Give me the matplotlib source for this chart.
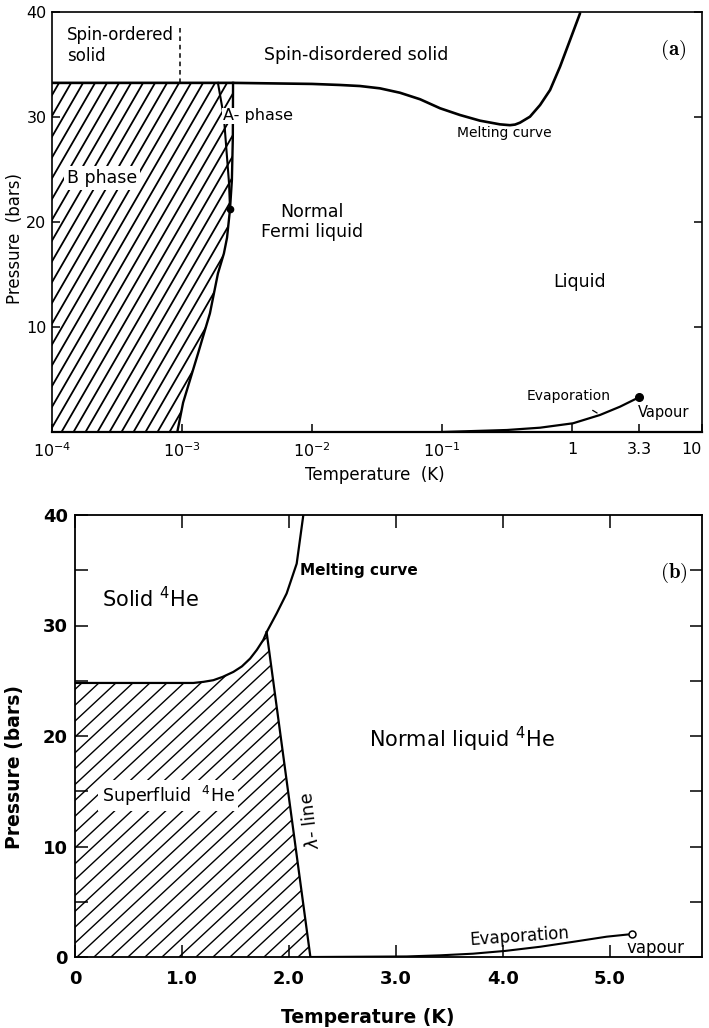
import numpy as np
import matplotlib
matplotlib.use("Agg")
import matplotlib.pyplot as plt
from matplotlib.patches import Polygon
from matplotlib.collections import LineCollection

plt.rcParams['font.family'] = ['DejaVu Sans']

# ---------------- Panel (a): 3He ----------------
a_melt_T = [1e-4, 2.47e-3, 0.01, 0.0164, 0.0234, 0.0333, 0.0475, 0.0678, 0.0967, 0.1375,
            0.196, 0.24, 0.279, 0.333, 0.365, 0.398, 0.475, 0.568, 0.678, 0.809, 0.966, 1.153]
a_melt_P = [33.25, 33.25, 33.15, 33.05, 32.95, 32.73, 32.31, 31.69, 30.83, 30.19,
            29.65, 29.45, 29.30, 29.22, 29.28, 29.46, 30.03, 31.14, 32.57, 34.79, 37.33, 39.87]
a_tc_T = [0.92e-3, 1.02e-3, 1.33e-3, 1.64e-3, 1.89e-3, 2.10e-3, 2.22e-3, 2.34e-3, 2.42e-3,
          2.46e-3, 2.47e-3]
a_tc_P = [0.0, 2.8, 7.5, 11.3, 15.1, 17.0, 18.5, 21.2, 24.0, 28.0, 33.25]
a_ab_T = [1.89e-3, 2.10e-3, 2.30e-3, 2.34e-3]
a_ab_P = [33.25, 30.0, 23.7, 21.2]
a_pcp_T, a_pcp_P = 2.34e-3, 21.2
a_order_T = [0.97e-3, 0.97e-3]
a_order_P = [33.25, 38.6]
a_evap_T = [0.1, 0.316, 0.568, 1.018, 1.64, 2.34, 3.27]
a_evap_P = [0.0, 0.19, 0.41, 0.83, 1.62, 2.41, 3.30]
a_xticks = [1e-4, 1e-3, 1e-2, 1e-1, 1, 3.3, 10]
a_xticklabels = ['$10^{-4}$', '$10^{-3}$', '$10^{-2}$', '$10^{-1}$', '1', '3.3', '10']
a_yticks = [10, 20, 30, 40]
a_yticklabels = ['10', '20', '30', '40']

# ---------------- Panel (b): 4He ----------------
b_melt_T = [0.0, 1.106, 1.2, 1.293, 1.38, 1.480, 1.56, 1.636, 1.70, 1.760, 1.791,
            1.885, 1.978, 2.072, 2.134]
b_melt_P = [24.8, 24.8, 24.9, 25.05, 25.35, 25.8, 26.3, 27.0, 27.8, 28.7, 29.4,
            31.1, 32.9, 35.6, 40.0]
b_lambda_T = [1.791, 2.2]
b_lambda_P = [29.4, 0.0]
b_evap_T = [2.2, 3.1, 3.41, 3.72, 4.02, 4.35, 4.66, 4.97, 5.21]
b_evap_P = [0.0, 0.05, 0.15, 0.30, 0.55, 0.93, 1.38, 1.84, 2.08]
b_xticks = [0, 1, 2, 3, 4, 5]
b_xticklabels = ['0', '1.0', '2.0', '3.0', '4.0', '5.0']
b_yticks = [0, 10, 20, 30, 40]
b_yticklabels = ['0', '10', '20', '30', '40']
b_yminor = [5, 15, 25, 35]

FW, FH, DPI = 7.09, 10.28, 100
fig = plt.figure(figsize=(FW, FH), dpi=DPI)

axa = fig.add_axes([52/709, 1-432/1028, 650/709, 420/1028])
axb = fig.add_axes([75/709, 1-957/1028, 627/709, 442/1028])


def add_hatch(ax, patch, angle_deg, step_px, lw):
    pos = ax.get_position()
    W = pos.width * FW * DPI
    H = pos.height * FH * DPI
    dx = H / np.tan(np.radians(angle_deg))
    cs = np.arange(-dx, W + step_px, step_px)
    segs = [[(c / W, 0.0), ((c + dx) / W, 1.0)] for c in cs]
    lc = LineCollection(segs, transform=ax.transAxes, colors='black', linewidths=lw)
    ax.add_collection(lc, autolim=False)
    lc.set_clip_path(patch)


# ======== (a) ========
ax = axa
ax.set_xscale('log')
ax.set_xlim(1e-4, 10)
ax.set_ylim(0, 40)

poly_T = [1e-4, 1e-4] + a_tc_T[::-1]
poly_P = [0.0, 33.25] + a_tc_P[::-1]
pa = Polygon(np.column_stack([poly_T, poly_P]), closed=True, facecolor='none', edgecolor='none')
ax.add_patch(pa)
add_hatch(ax, pa, 60, 12.0, 1.3)

ax.plot(a_melt_T, a_melt_P, color='black', lw=1.9, solid_capstyle='round', zorder=3)
ax.plot(a_tc_T, a_tc_P, color='black', lw=1.7, zorder=3)
ax.plot(a_ab_T, a_ab_P, color='black', lw=1.5, zorder=3)
ax.plot([a_pcp_T], [a_pcp_P], 'o', color='black', ms=4.5, zorder=4)
ax.plot(a_order_T, a_order_P, color='black', lw=1.1, ls=(0, (3, 2.5)), zorder=3)
ax.plot(a_evap_T, a_evap_P, color='black', lw=1.6, zorder=3)
ax.plot([a_evap_T[-1]], [a_evap_P[-1]], 'o', color='black', ms=5.5, zorder=4)

ax.set_xticks(a_xticks)
ax.set_xticklabels(a_xticklabels)
ax.xaxis.set_minor_locator(matplotlib.ticker.NullLocator())
ax.set_yticks(a_yticks)
ax.set_yticklabels(a_yticklabels)
ax.tick_params(axis='both', direction='in', length=6, width=1.1, labelsize=11.5,
               right=True, top=False)
ax.tick_params(axis='x', pad=7)
ax.tick_params(axis='y', pad=4)
ax.get_xticklabels()[-1].set_ha('right')
for s in ax.spines.values():
    s.set_linewidth(1.2)
ax.spines['bottom'].set_linewidth(1.6)

ax.text(-0.057, 0.46, 'Pressure  (bars)', transform=ax.transAxes, rotation=90,
        ha='center', va='center', fontsize=12)
ax.text(0.497, -0.102, 'Temperature  (K)', transform=ax.transAxes,
        ha='center', va='center', fontsize=12)

ax.text(1.3e-4, 36.8, 'Spin-ordered\nsolid', fontsize=12, ha='left', va='center', linespacing=1.25)
ax.text(2.2e-2, 35.9, 'Spin-disordered solid', fontsize=12.5, ha='center', va='center')
ax.text(0.955, 0.91, r'$\mathbf{(a)}$', transform=ax.transAxes, fontsize=15,
        ha='center', va='center', math_fontfamily='cm')
ax.text(2.05e-3, 30.1, 'A- phase', fontsize=11.5, ha='left', va='center',
        bbox=dict(boxstyle='square,pad=0.05', fc='white', ec='none'), zorder=5)
ax.text(1.3e-4, 24.2, 'B phase', fontsize=12.5, ha='left', va='center',
        bbox=dict(boxstyle='square,pad=0.15', fc='white', ec='none'), zorder=5)
ax.text(1.0e-2, 20.0, 'Normal\nFermi liquid', fontsize=12.5, ha='center', va='center',
        linespacing=1.2)
ax.text(0.3, 28.45, 'Melting curve', fontsize=10, ha='center', va='center')
ax.text(1.15, 14.3, 'Liquid', fontsize=12.5, ha='center', va='center')
ax.annotate('Evaporation', xy=(1.56, 1.81), xytext=(0.95, 3.4), fontsize=10,
            ha='center', va='center',
            arrowprops=dict(arrowstyle='-', color='black', lw=0.9,
                            shrinkA=6, shrinkB=0))
ax.text(3.2, 1.82, 'Vapour', fontsize=10.5, ha='left', va='center')

# ======== (b) ========
ax = axb
ax.set_xlim(0, 5.86)
ax.set_ylim(0, 40)

poly_T = [0.0] + b_melt_T[:11] + [b_lambda_T[-1]]
poly_P = [0.0] + b_melt_P[:11] + [b_lambda_P[-1]]
pb = Polygon(np.column_stack([poly_T, poly_P]), closed=True, facecolor='none', edgecolor='none')
ax.add_patch(pb)
add_hatch(ax, pb, 43, 17.0, 1.0)

ax.plot(b_melt_T, b_melt_P, color='black', lw=1.6, zorder=3)
ax.plot(b_lambda_T, b_lambda_P, color='black', lw=1.6, zorder=3)
ax.plot(b_evap_T, b_evap_P, color='black', lw=1.5, zorder=3)
ax.plot([b_evap_T[-1]], [b_evap_P[-1]], 'o', mfc='white', mec='black', mew=1.1, ms=5, zorder=4)

ax.set_xticks(b_xticks)
ax.set_xticklabels(b_xticklabels, fontweight='bold')
ax.set_yticks(b_yticks)
ax.set_yticklabels(b_yticklabels, fontweight='bold')
ax.set_yticks(b_yminor, minor=True)
ax.tick_params(axis='both', which='both', direction='in', length=9, width=1.1,
               labelsize=13, right=True, top=True)
ax.tick_params(axis='x', pad=9)
ax.tick_params(axis='y', pad=5)
for s in ax.spines.values():
    s.set_linewidth(1.3)

ax.text(-0.097, 0.43, 'Pressure (bars)', transform=ax.transAxes, rotation=90,
        ha='center', va='center', fontsize=13.5, fontweight='bold')
ax.text(0.467, -0.136, 'Temperature (K)', transform=ax.transAxes,
        ha='center', va='center', fontsize=13.5, fontweight='bold')

ax.text(0.25, 32.4, 'Solid $^{4}$He', fontsize=15, ha='left', va='center')
ax.text(2.1, 35.0, 'Melting curve', fontsize=11, fontweight='bold', ha='left', va='center')
ax.text(0.955, 0.87, r'$\mathbf{(b)}$', transform=ax.transAxes, fontsize=15,
        ha='center', va='center', math_fontfamily='cm')
ax.text(2.75, 19.7, 'Normal liquid $^{4}$He', fontsize=15, ha='left', va='center')
ax.text(0.25, 14.6, 'Superfluid  $^{4}$He', fontsize=12.5, ha='left', va='center',
        bbox=dict(boxstyle='square,pad=0.2', fc='white', ec='none'), zorder=5)
ax.text(2.2, 12.4, r'$\lambda$- line', fontsize=13, ha='center', va='center', rotation=97)
ax.text(4.15, 1.85, 'Evaporation', fontsize=12, ha='center', va='center', rotation=4)
ax.text(5.15, 0.85, 'vapour', fontsize=12, ha='left', va='center')

fig.savefig('out.png', dpi=DPI)
